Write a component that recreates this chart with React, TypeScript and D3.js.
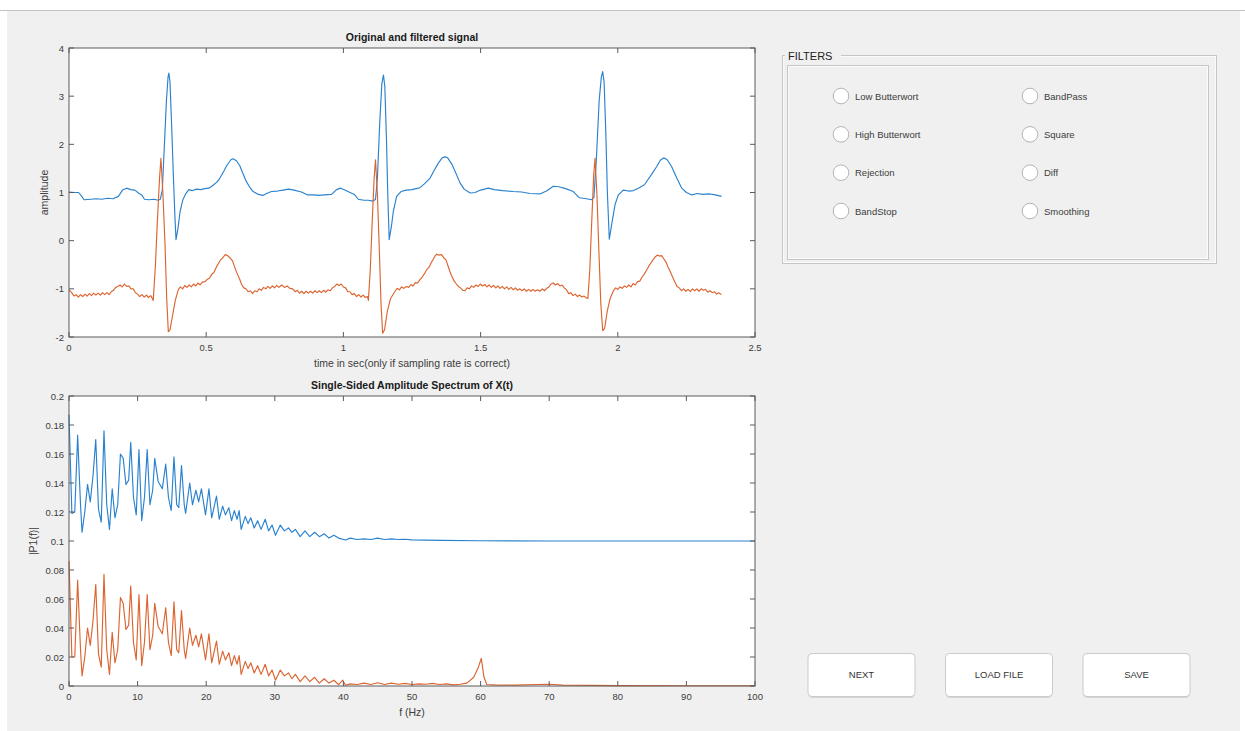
import React from 'react'
import * as d3 from 'd3'

// ---- signal data: [time (s), amplitude] ----
const originalSignal: [number, number][] = [
  [0, 1.01], [0.02, 1.0], [0.035, 1.0], [0.045, 0.93], [0.055, 0.85], [0.08, 0.86], [0.1, 0.87], [0.12, 0.86],
  [0.14, 0.88], [0.16, 0.87], [0.18, 0.92], [0.195, 1.05], [0.21, 1.09], [0.225, 1.06], [0.24, 1.05], [0.255, 0.98],
  [0.265, 0.95], [0.275, 0.86], [0.29, 0.85], [0.31, 0.86], [0.325, 0.84], [0.333, 0.86], [0.34, 1.05], [0.347, 1.9],
  [0.355, 2.9], [0.361, 3.4], [0.364, 3.48], [0.368, 3.3], [0.374, 2.4], [0.38, 1.4], [0.386, 0.5], [0.39, 0.02],
  [0.397, 0.25], [0.405, 0.61], [0.415, 0.85], [0.425, 0.97], [0.437, 1.06], [0.45, 1.04], [0.465, 1.07], [0.48, 1.06],
  [0.495, 1.08], [0.51, 1.09], [0.525, 1.15], [0.54, 1.22], [0.55, 1.3], [0.565, 1.45], [0.575, 1.56], [0.59, 1.68],
  [0.598, 1.7], [0.61, 1.66], [0.622, 1.56], [0.635, 1.38], [0.646, 1.23], [0.66, 1.1], [0.671, 1.02], [0.69, 0.96],
  [0.707, 0.94], [0.72, 0.98], [0.738, 1.02], [0.76, 1.03], [0.78, 1.05], [0.8, 1.07], [0.82, 1.05], [0.847, 1.01],
  [0.87, 0.95], [0.89, 0.95], [0.91, 0.94], [0.93, 0.95], [0.957, 0.96], [0.975, 1.06], [0.99, 1.09], [1.005, 1.05],
  [1.024, 1.0], [1.04, 0.96], [1.054, 0.86], [1.075, 0.84], [1.09, 0.84], [1.109, 0.82], [1.117, 0.86], [1.124, 1.3],
  [1.132, 2.4], [1.14, 3.25], [1.146, 3.44], [1.151, 3.2], [1.157, 2.1], [1.162, 0.9], [1.167, 0.02], [1.175, 0.3],
  [1.182, 0.61], [1.194, 0.92], [1.21, 1.02], [1.23, 1.05], [1.25, 1.06], [1.265, 1.08], [1.279, 1.1], [1.295, 1.18],
  [1.316, 1.3], [1.33, 1.45], [1.346, 1.61], [1.36, 1.72], [1.37, 1.74], [1.38, 1.72], [1.395, 1.59], [1.41, 1.4],
  [1.425, 1.2], [1.44, 1.07], [1.462, 0.99], [1.48, 1.0], [1.5, 1.05], [1.528, 1.09], [1.55, 1.06], [1.58, 1.04],
  [1.619, 1.02], [1.65, 1.01], [1.68, 0.98], [1.716, 0.97], [1.74, 1.03], [1.765, 1.13], [1.785, 1.12], [1.81, 1.08],
  [1.838, 1.02], [1.86, 0.89], [1.885, 0.87], [1.905, 0.85], [1.913, 0.9], [1.922, 1.7], [1.932, 2.9], [1.94, 3.4],
  [1.945, 3.51], [1.95, 3.3], [1.956, 2.3], [1.962, 1.0], [1.969, 0.03], [1.978, 0.35], [1.99, 0.75], [2.002, 0.95],
  [2.02, 1.05], [2.04, 1.03], [2.057, 1.04], [2.075, 1.09], [2.097, 1.16], [2.12, 1.35], [2.142, 1.54], [2.155, 1.67],
  [2.168, 1.72], [2.18, 1.68], [2.196, 1.54], [2.215, 1.3], [2.233, 1.09], [2.25, 1.0], [2.27, 0.95], [2.29, 0.98],
  [2.31, 0.96], [2.336, 0.97], [2.355, 0.95], [2.378, 0.92],
]

const filteredSignal: [number, number][] = [
  [0, -1.02], [0.01, -1.08], [0.018, -1.15], [0.026, -1.12], [0.034, -1.17], [0.042, -1.12], [0.05, -1.16], [0.058, -1.11],
  [0.066, -1.15], [0.074, -1.1], [0.082, -1.14], [0.09, -1.09], [0.098, -1.13], [0.106, -1.09], [0.114, -1.13], [0.122, -1.08],
  [0.13, -1.12], [0.138, -1.08], [0.146, -1.12], [0.154, -1.06], [0.162, -1.03], [0.17, -0.97], [0.178, -0.95], [0.186, -0.92],
  [0.194, -0.96], [0.202, -0.9], [0.21, -0.95], [0.218, -0.94], [0.226, -1.0], [0.234, -1.0], [0.242, -1.08], [0.25, -1.11],
  [0.258, -1.16], [0.266, -1.12], [0.274, -1.17], [0.282, -1.13], [0.29, -1.18], [0.298, -1.14], [0.307, -1.24], [0.315, -0.5],
  [0.322, 0.4], [0.33, 1.3], [0.335, 1.71], [0.342, 1.0], [0.35, -0.08], [0.356, -1.2], [0.362, -1.89], [0.368, -1.85],
  [0.376, -1.6], [0.387, -1.25], [0.398, -1.02], [0.406, -0.96], [0.414, -1.0], [0.422, -0.93], [0.43, -0.97], [0.438, -0.92],
  [0.446, -0.96], [0.454, -0.9], [0.462, -0.94], [0.47, -0.88], [0.478, -0.92], [0.486, -0.86], [0.496, -0.85], [0.504, -0.8],
  [0.512, -0.78], [0.52, -0.7], [0.528, -0.66], [0.536, -0.56], [0.544, -0.48], [0.552, -0.4], [0.56, -0.36], [0.569, -0.29],
  [0.578, -0.31], [0.587, -0.36], [0.596, -0.42], [0.605, -0.57], [0.614, -0.7], [0.622, -0.8], [0.629, -0.91], [0.637, -0.98],
  [0.645, -1.0], [0.653, -1.06], [0.661, -1.04], [0.669, -1.1], [0.677, -1.04], [0.685, -1.06], [0.693, -1.0], [0.701, -1.03],
  [0.709, -0.97], [0.717, -1.0], [0.725, -0.95], [0.733, -0.99], [0.741, -0.94], [0.749, -0.98], [0.757, -0.93], [0.765, -0.97],
  [0.775, -0.92], [0.785, -0.97], [0.795, -0.94], [0.805, -0.99], [0.815, -1.0], [0.824, -1.06], [0.832, -1.03], [0.84, -1.09],
  [0.848, -1.05], [0.856, -1.1], [0.864, -1.05], [0.872, -1.09], [0.88, -1.05], [0.888, -1.09], [0.896, -1.04], [0.904, -1.08],
  [0.912, -1.04], [0.92, -1.08], [0.928, -1.03], [0.936, -1.07], [0.944, -1.02], [0.952, -1.04], [0.96, -0.98], [0.968, -0.95],
  [0.976, -0.9], [0.984, -0.93], [0.992, -0.9], [1.0, -0.96], [1.008, -0.98], [1.016, -1.06], [1.024, -1.06], [1.032, -1.12],
  [1.04, -1.1], [1.048, -1.16], [1.056, -1.12], [1.064, -1.17], [1.072, -1.13], [1.08, -1.18], [1.088, -1.16], [1.091, -1.24],
  [1.098, -0.6], [1.105, 0.4], [1.112, 1.3], [1.117, 1.68], [1.124, 0.95], [1.131, -0.2], [1.137, -1.3], [1.143, -1.92],
  [1.15, -1.85], [1.16, -1.47], [1.172, -1.2], [1.188, -1.05], [1.196, -0.99], [1.204, -1.02], [1.212, -0.96], [1.22, -0.99],
  [1.23, -0.95], [1.238, -0.97], [1.246, -0.91], [1.254, -0.94], [1.262, -0.87], [1.27, -0.88], [1.279, -0.81], [1.288, -0.75],
  [1.296, -0.68], [1.304, -0.6], [1.312, -0.55], [1.32, -0.46], [1.328, -0.38], [1.334, -0.32], [1.34, -0.28], [1.348, -0.3],
  [1.358, -0.29], [1.366, -0.36], [1.374, -0.4], [1.381, -0.52], [1.388, -0.64], [1.396, -0.75], [1.404, -0.84], [1.412, -0.9],
  [1.419, -0.95], [1.427, -0.98], [1.435, -1.03], [1.443, -1.04], [1.451, -0.98], [1.459, -1.0], [1.467, -0.94], [1.475, -0.97],
  [1.483, -0.92], [1.491, -0.95], [1.499, -0.9], [1.507, -0.94], [1.515, -0.91], [1.523, -0.96], [1.531, -0.92], [1.539, -0.97],
  [1.547, -0.93], [1.555, -0.98], [1.563, -0.94], [1.571, -0.99], [1.579, -0.95], [1.587, -1.0], [1.595, -0.96], [1.603, -1.01],
  [1.611, -0.97], [1.619, -1.02], [1.627, -0.98], [1.635, -1.03], [1.643, -1.0], [1.651, -1.04], [1.659, -1.0], [1.667, -1.05],
  [1.675, -1.01], [1.683, -1.05], [1.691, -1.01], [1.699, -1.05], [1.707, -1.02], [1.716, -1.05], [1.725, -1.0], [1.733, -1.04],
  [1.741, -0.99], [1.749, -0.96], [1.757, -0.9], [1.765, -0.88], [1.773, -0.92], [1.781, -0.89], [1.789, -0.94], [1.797, -0.92],
  [1.805, -0.98], [1.813, -1.02], [1.821, -1.1], [1.829, -1.08], [1.837, -1.14], [1.845, -1.11], [1.853, -1.16], [1.861, -1.13],
  [1.869, -1.17], [1.877, -1.15], [1.885, -1.19], [1.891, -1.2], [1.898, -0.6], [1.905, 0.4], [1.912, 1.35], [1.917, 1.71],
  [1.924, 0.95], [1.931, -0.2], [1.938, -1.3], [1.945, -1.87], [1.952, -1.82], [1.962, -1.45], [1.972, -1.2], [1.984, -1.04],
  [1.992, -0.98], [2.0, -1.01], [2.008, -0.96], [2.016, -0.99], [2.024, -0.94], [2.032, -0.97], [2.04, -0.92], [2.048, -0.96],
  [2.056, -0.89], [2.064, -0.92], [2.072, -0.85], [2.08, -0.84], [2.088, -0.76], [2.096, -0.7], [2.104, -0.62], [2.112, -0.54],
  [2.12, -0.47], [2.128, -0.4], [2.136, -0.34], [2.144, -0.3], [2.152, -0.32], [2.16, -0.31], [2.168, -0.38], [2.176, -0.45],
  [2.184, -0.56], [2.192, -0.65], [2.2, -0.76], [2.208, -0.86], [2.216, -0.95], [2.224, -0.98], [2.232, -1.04], [2.24, -1.0],
  [2.248, -1.05], [2.256, -1.01], [2.264, -1.06], [2.272, -1.0], [2.28, -1.04], [2.288, -1.0], [2.296, -1.05], [2.304, -1.0],
  [2.312, -1.03], [2.32, -1.01], [2.328, -1.07], [2.336, -1.04], [2.344, -1.08], [2.352, -1.06], [2.36, -1.11], [2.368, -1.08],
  [2.378, -1.12],
]

// ---- spectrum data: [frequency (Hz), |P1(f)|] ----
const originalSpectrum: [number, number][] = [
  [0, 0.187], [0.42, 0.119], [0.84, 0.12], [1.26, 0.173], [1.68, 0.125], [1.9, 0.106], [2.3, 0.12], [2.7, 0.139],
  [3.1, 0.127], [3.5, 0.145], [3.9, 0.17], [4.3, 0.122], [4.7, 0.113], [5.1, 0.176], [5.5, 0.125], [5.9, 0.108],
  [6.3, 0.136], [6.7, 0.116], [7.1, 0.125], [7.5, 0.16], [7.9, 0.157], [8.3, 0.139], [8.7, 0.142], [9.0, 0.168],
  [9.4, 0.13], [9.8, 0.118], [10.2, 0.163], [10.6, 0.114], [11.0, 0.13], [11.4, 0.163], [11.8, 0.125], [12.2, 0.135],
  [12.5, 0.157], [13.0, 0.141], [13.6, 0.136], [14.1, 0.153], [14.5, 0.13], [14.9, 0.121], [15.3, 0.158], [15.7, 0.125],
  [16.0, 0.123], [16.4, 0.152], [16.8, 0.125], [17.0, 0.119], [17.6, 0.14], [18.0, 0.125], [18.5, 0.135], [18.9, 0.127],
  [19.3, 0.136], [19.9, 0.118], [20.4, 0.136], [20.8, 0.116], [21.5, 0.131], [21.9, 0.115], [22.4, 0.124], [22.8, 0.118],
  [23.3, 0.123], [23.7, 0.114], [24.1, 0.121], [24.5, 0.115], [24.8, 0.121], [25.1, 0.108], [25.7, 0.117], [26.1, 0.112],
  [26.5, 0.116], [27.0, 0.109], [27.5, 0.114], [28.0, 0.108], [28.6, 0.115], [29.1, 0.107], [29.6, 0.111], [30.1, 0.104],
  [30.8, 0.111], [31.4, 0.107], [32.0, 0.109], [32.5, 0.106], [33.0, 0.108], [33.7, 0.103], [34.4, 0.107], [35.1, 0.103],
  [35.8, 0.106], [36.5, 0.103], [37.2, 0.105], [37.9, 0.102], [38.6, 0.104], [39.3, 0.102], [40.3, 0.1007], [41, 0.102],
  [42, 0.101], [43, 0.1015], [44, 0.101], [45, 0.102], [46, 0.101], [47, 0.1015], [48, 0.101], [49, 0.1012],
  [50, 0.1008], [52, 0.1006], [54.4, 0.1004], [60, 0.1002], [70, 0.1], [80, 0.1], [100, 0.1],
]

const filteredSpectrum: [number, number][] = [
  [0, 0.086], [0.42, 0.02], [0.84, 0.02], [1.26, 0.073], [1.68, 0.025], [1.9, 0.007], [2.3, 0.02], [2.7, 0.04],
  [3.1, 0.028], [3.5, 0.045], [3.9, 0.07], [4.3, 0.022], [4.7, 0.013], [5.1, 0.077], [5.5, 0.025], [5.9, 0.008],
  [6.3, 0.037], [6.7, 0.016], [7.1, 0.025], [7.5, 0.061], [7.9, 0.057], [8.3, 0.039], [8.7, 0.042], [9.0, 0.069],
  [9.4, 0.03], [9.8, 0.018], [10.2, 0.063], [10.6, 0.014], [11.0, 0.03], [11.4, 0.063], [11.8, 0.025], [12.2, 0.035],
  [12.5, 0.057], [13.0, 0.041], [13.6, 0.036], [14.1, 0.054], [14.5, 0.03], [14.9, 0.021], [15.3, 0.058], [15.7, 0.025],
  [16.0, 0.023], [16.4, 0.052], [16.8, 0.025], [17.0, 0.019], [17.6, 0.04], [18.0, 0.028], [18.5, 0.035], [18.9, 0.027],
  [19.3, 0.036], [19.9, 0.018], [20.4, 0.036], [20.8, 0.016], [21.5, 0.031], [21.9, 0.015], [22.4, 0.024], [22.8, 0.018],
  [23.3, 0.023], [23.7, 0.014], [24.1, 0.021], [24.5, 0.015], [24.8, 0.021], [25.1, 0.008], [25.7, 0.017], [26.1, 0.012],
  [26.5, 0.016], [27.0, 0.009], [27.5, 0.014], [28.0, 0.008], [28.6, 0.015], [29.1, 0.007], [29.6, 0.011], [30.1, 0.004],
  [30.8, 0.011], [31.4, 0.007], [32.0, 0.009], [32.5, 0.005], [33.0, 0.008], [33.7, 0.003], [34.4, 0.007], [35.1, 0.003],
  [35.8, 0.006], [36.5, 0.002], [37.2, 0.005], [37.9, 0.002], [38.6, 0.004], [39.3, 0.001], [39.9, 0.004], [40.3, 0.0005],
  [41, 0.0015], [42, 0.001], [43, 0.002], [44, 0.001], [45, 0.0022], [46, 0.001], [47, 0.002], [48, 0.0012],
  [49, 0.0018], [50, 0.001], [51, 0.0015], [52, 0.0012], [53, 0.0018], [54, 0.001], [55, 0.0015], [56, 0.0008],
  [57, 0.0012], [58, 0.002], [59, 0.006], [59.6, 0.012], [60.1, 0.019], [60.5, 0.006], [60.9, 0.001], [62, 0.0008],
  [65, 0.0006], [68, 0.001], [70, 0.0012], [72, 0.0006], [80, 0.0003], [90, 0.0002], [100, 0.0002],
]

const signalXTicks = [0, 0.5, 1, 1.5, 2, 2.5]
const signalYTicks = [-2, -1, 0, 1, 2, 3, 4]
const spectrumXTicks = [0, 10, 20, 30, 40, 50, 60, 70, 80, 90, 100]
const spectrumYTicks = [0, 0.02, 0.04, 0.06, 0.08, 0.1, 0.12, 0.14, 0.16, 0.18, 0.2]

const filterNames = ['Low Butterwort', 'High Butterwort', 'Rejection', 'BandStop', 'BandPass', 'Square', 'Diff', 'Smoothing']
const buttonLabels = ['NEXT', 'LOAD FILE', 'SAVE']

const BLUE = '#2a82cf'
const ORANGE = '#dc6430'
const AXIS = '#5a5a5a'
const TEXT = '#3c3c3c'
const FONT = 'Liberation Sans, Arial, Helvetica, sans-serif'

const fmt = (v: number) => String(+v.toFixed(2))

type PlotProps = {
  left: number; top: number; width: number; height: number
  xDomain: [number, number]; yDomain: [number, number]
  xTicks: number[]; yTicks: number[]
  series: { data: [number, number][]; color: string }[]
  title: string; xLabel: string; yLabel: string; yLabelX: number
}

const Plot = ({ left, top, width, height, xDomain, yDomain, xTicks, yTicks, series, title, xLabel, yLabel, yLabelX }: PlotProps) => {
  const x = d3.scaleLinear().domain(xDomain).range([left, left + width])
  const y = d3.scaleLinear().domain(yDomain).range([top + height, top])
  const line = d3.line<[number, number]>().x(d => x(d[0])).y(d => y(d[1]))
  const tk = 5
  return (
    <g fontFamily={FONT}>
      <rect x={left} y={top} width={width} height={height} fill="#fff" />
      {series.map((s, i) => (
        <path key={i} d={line(s.data) || ''} fill="none" stroke={s.color} strokeWidth={1.15} strokeLinejoin="round" />
      ))}
      <rect x={left} y={top} width={width} height={height} fill="none" stroke={AXIS} strokeWidth={1} />
      {xTicks.map(t => (
        <g key={'x' + t}>
          <line x1={x(t)} x2={x(t)} y1={top + height} y2={top + height - tk} stroke={AXIS} />
          <line x1={x(t)} x2={x(t)} y1={top} y2={top + tk} stroke={AXIS} />
          <text x={x(t)} y={top + height + 14} fontSize={9.5} fill={TEXT} textAnchor="middle">{fmt(t)}</text>
        </g>
      ))}
      {yTicks.map(t => (
        <g key={'y' + t}>
          <line x1={left} x2={left + tk} y1={y(t)} y2={y(t)} stroke={AXIS} />
          <line x1={left + width} x2={left + width - tk} y1={y(t)} y2={y(t)} stroke={AXIS} />
          <text x={left - 5} y={y(t) + 3.5} fontSize={9.5} fill={TEXT} textAnchor="end">{fmt(t)}</text>
        </g>
      ))}
      <text x={left + width / 2} y={top - 7} fontSize={10.5} fontWeight="bold" fill="#1a1a1a" textAnchor="middle">{title}</text>
      <text x={left + width / 2} y={top + height + 30} fontSize={10.5} fill={TEXT} textAnchor="middle">{xLabel}</text>
      <text transform={`translate(${yLabelX},${top + height / 2}) rotate(-90)`} fontSize={10.5} fill={TEXT} textAnchor="middle">{yLabel}</text>
    </g>
  )
}

const App = () => {
  const colX = [841, 1030]
  const rowY = d3.scalePoint<number>().domain([0, 1, 2, 3]).range([96, 211])
  const btnX = d3.scalePoint<string>().domain(buttonLabels).range([861.5, 1136.5])

  return (
    <div style={{ position: 'absolute', left: 0, top: 0 }}>
      <svg width={1245} height={731} style={{ display: 'block' }}>
        <rect x={0} y={0} width={1245} height={731} fill="#fff" />
        <rect x={7} y={10} width={1233} height={721} fill="#f0f0f0" />
        <line x1={0} x2={1245} y1={10.5} y2={10.5} stroke="#c4c4c4" />

        <Plot left={69} top={48} width={686} height={289} xDomain={[0, 2.5]} yDomain={[-2, 4]}
          xTicks={signalXTicks} yTicks={signalYTicks}
          series={[{ data: originalSignal, color: BLUE }, { data: filteredSignal, color: ORANGE }]}
          title="Original and filtered signal" xLabel="time in sec(only if sampling rate is correct)"
          yLabel="amplitude" yLabelX={48} />

        <Plot left={69} top={396} width={686} height={290} xDomain={[0, 100]} yDomain={[0, 0.2]}
          xTicks={spectrumXTicks} yTicks={spectrumYTicks}
          series={[{ data: originalSpectrum, color: BLUE }, { data: filteredSpectrum, color: ORANGE }]}
          title="Single-Sided Amplitude Spectrum of X(t)" xLabel="f (Hz)"
          yLabel="|P1(f)|" yLabelX={37} />

        {/* filter panel */}
        <g fontFamily={FONT}>
          <rect x={782.5} y={55.5} width={434} height={208} fill="none" stroke="#c6c6c6" />
          <rect x={783.5} y={56.5} width={432} height={206} fill="none" stroke="#fbfbfb" />
          <rect x={787.5} y={65.5} width={421} height={194} fill="none" stroke="#c6c6c6" />
          <rect x={788.5} y={66.5} width={419} height={192} fill="none" stroke="#fbfbfb" />
          <rect x={785} y={48} width={56} height={14} fill="#f0f0f0" />
          <text x={788} y={60} fontSize={11} fill="#222">FILTERS</text>
          {filterNames.map((name, i) => {
            const cx = colX[Math.floor(i / 4)]
            const cy = rowY(i % 4) as number
            return (
              <g key={name}>
                <circle cx={cx} cy={cy} r={7.8} fill="#fff" stroke="#b4b4b4" />
                <text x={cx + 14} y={cy + 3.5} fontSize={9.5} fill={TEXT}>{name}</text>
              </g>
            )
          })}
        </g>

        {/* buttons */}
        <g fontFamily={FONT}>
          {buttonLabels.map(label => {
            const cx = btnX(label) as number
            return (
              <g key={label}>
                <rect x={cx - 53} y={655} width={106} height={43} rx={4} fill="#d6d6d6" />
                <rect x={cx - 53.5} y={653.5} width={107} height={43} rx={4} fill="#fff" stroke="#cacaca" />
                <text x={cx} y={678} fontSize={9.5} fill="#333" textAnchor="middle">{label}</text>
              </g>
            )
          })}
        </g>
      </svg>
    </div>
  )
}

export default App
